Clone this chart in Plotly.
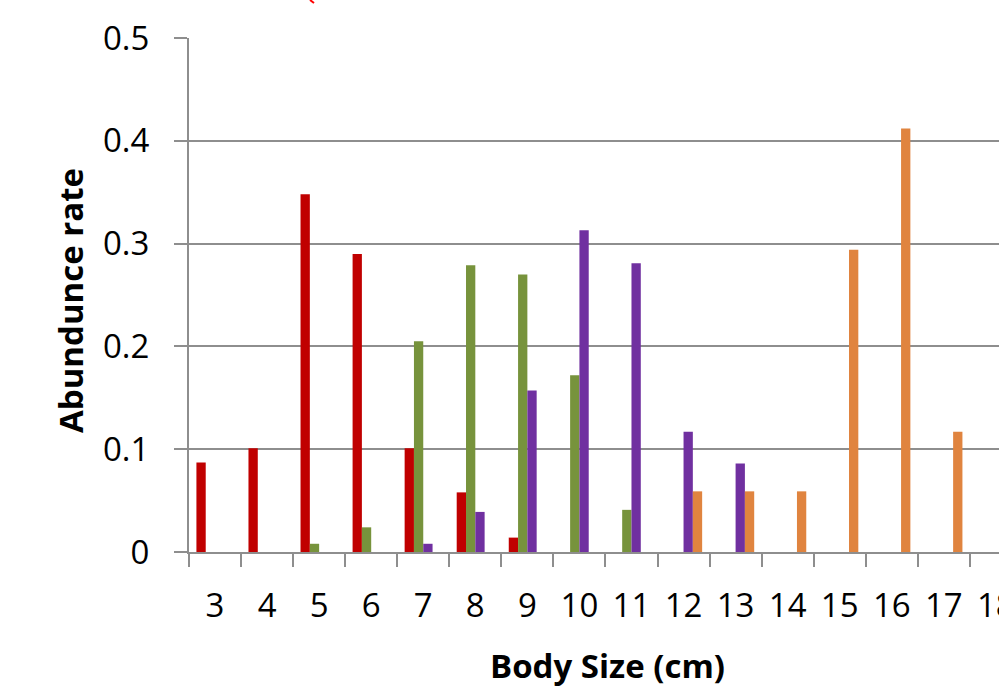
import plotly.graph_objects as go

sizes = ["3", "4", "5", "6", "7", "8", "9", "10", "11", "12", "13", "14", "15", "16", "17", "18"]
series_a = [0.087, 0.101, 0.348, 0.290, 0.101, 0.058, 0.014, None, None, None, None, None, None, None, None, None]
series_b = [None, None, 0.008, 0.024, 0.205, 0.279, 0.270, 0.172, 0.041, None, None, None, None, None, None, None]
series_c = [None, None, None, None, 0.008, 0.039, 0.157, 0.313, 0.281, 0.117, 0.086, None, None, None, None, None]
series_d = [None, None, None, None, None, None, None, None, None, 0.059, 0.059, 0.059, 0.294, 0.412, 0.117, None]

colors = ["#C00000", "#77933C", "#7030A0", "#E0843F"]
names = ["A", "B", "C", "D"]

fig = go.Figure()
for name, vals, col in zip(names, [series_a, series_b, series_c, series_d], colors):
    fig.add_trace(go.Bar(x=sizes, y=vals, name=name, marker=dict(color=col, line=dict(width=0))))

grid = "#8E8E8E"
font_fam = "Open Sans"

fig.update_layout(
    width=999, height=694,
    margin=dict(l=189, r=0, t=38, b=142, autoexpand=False),
    paper_bgcolor="white", plot_bgcolor="white",
    barmode="group", bargap=0.285, bargroupgap=0,
    showlegend=False,
    font=dict(family=font_fam, color="black"),
)
fig.update_xaxes(
    type="category", range=[-0.5, 15.06], automargin=False,
    showgrid=False, showline=True, linecolor=grid, linewidth=2,
    ticks="outside", tickson="boundaries", ticklen=13, tickcolor=grid, tickwidth=2,
    tickfont=dict(size=33, family=font_fam, color="black"),
    ticklabelstandoff=23,
    zeroline=False,
)
fig.update_yaxes(
    range=[0, 0.5], dtick=0.1, tick0=0, automargin=False,
    showgrid=True, gridcolor=grid, gridwidth=2,
    showline=True, linecolor=grid, linewidth=2,
    ticks="outside", ticklen=13, tickcolor=grid, tickwidth=2,
    tickfont=dict(size=33, family=font_fam, color="black"),
    ticklabelstandoff=18,
    zeroline=False,
)
fig.add_annotation(text="<b>Body Size (cm)</b>", xref="paper", yref="paper",
                   x=(607 - 189) / 810, y=(552 - 665) / 514, showarrow=False,
                   font=dict(size=33, family=font_fam, color="black"),
                   xanchor="center", yanchor="middle")
fig.add_annotation(text="<b>Abundunce rate</b>", xref="paper", yref="paper",
                   x=(70 - 189) / 810, y=(552 - 301) / 514, showarrow=False, textangle=-90,
                   font=dict(size=33, family=font_fam, color="black"),
                   xanchor="center", yanchor="middle")
fig.add_shape(type="line", xref="paper", yref="paper",
              x0=(310 - 189) / 810, y0=(552 - 0) / 514, x1=(314 - 189) / 810, y1=(552 - 3) / 514,
              line=dict(color="red", width=2))

fig.write_html("out.html", config={"displayModeBar": False},
               post_script="document.body.style.margin='0';document.body.style.overflow='hidden';")
